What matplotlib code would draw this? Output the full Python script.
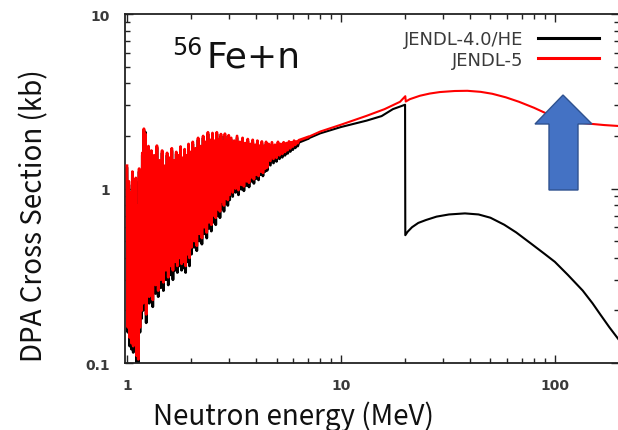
import matplotlib
matplotlib.use("Agg")
import matplotlib.pyplot as plt
from matplotlib.patches import Polygon
from matplotlib.ticker import FixedLocator, FixedFormatter, LogLocator, NullFormatter

# ---------------- data ----------------
# resonance region (shared energy grid, MeV)
res_energy = [
    1.00, 1.01, 1.02, 1.03, 1.04, 1.05, 1.06, 1.07, 1.08, 1.09, 1.10, 1.11, 1.12, 1.13, 1.14, 1.15,
    1.16, 1.17, 1.18, 1.19, 1.20, 1.21, 1.22, 1.23, 1.24, 1.25, 1.26, 1.27, 1.28, 1.29, 1.30,
    1.32, 1.34, 1.36, 1.38, 1.40, 1.42, 1.44, 1.46, 1.48, 1.50, 1.52, 1.54, 1.56, 1.58, 1.60,
    1.62, 1.64, 1.66, 1.68, 1.70, 1.72, 1.74, 1.76, 1.78, 1.80, 1.82, 1.84, 1.86, 1.88, 1.90,
    1.92, 1.94, 1.96, 1.98, 2.00,
    2.03, 2.06, 2.09, 2.12, 2.15, 2.18, 2.21, 2.24, 2.27, 2.30, 2.33, 2.36, 2.39, 2.42, 2.45,
    2.48, 2.51, 2.54, 2.57, 2.60, 2.63, 2.66, 2.69, 2.72, 2.75, 2.78, 2.81, 2.84, 2.87, 2.90,
    2.93, 2.96, 2.99, 3.02,
    3.07, 3.12, 3.17, 3.22, 3.27, 3.32, 3.37, 3.42, 3.47, 3.52, 3.57, 3.62, 3.67, 3.72, 3.77,
    3.82, 3.87, 3.92, 3.97, 4.02, 4.07, 4.12, 4.17, 4.22, 4.27, 4.32, 4.37, 4.42, 4.47, 4.52,
    4.60, 4.68, 4.76, 4.84, 4.92, 5.00, 5.08, 5.16, 5.24, 5.32, 5.40, 5.48, 5.56, 5.64, 5.72,
    5.80, 5.88, 5.96, 6.04, 6.12, 6.20, 6.28, 6.36,
]
res_jendl5 = [
    1.35, 0.16, 1.10, 0.14, 0.95, 0.13, 1.25, 0.125, 0.90, 0.14, 1.15, 0.11, 0.80, 0.105, 1.30, 0.16,
    1.05, 0.20, 1.60, 0.22, 2.20, 0.33, 2.05, 0.19, 1.50, 0.26, 1.75, 0.24, 1.40, 0.25, 1.65,
    0.23, 1.55, 0.28, 1.76, 0.26, 1.45, 0.30, 1.65, 0.29, 1.35, 0.34, 1.60, 0.31, 1.50, 0.36,
    1.70, 0.34, 1.45, 0.38, 1.62, 0.36, 1.55, 0.40, 1.74, 0.37, 1.50, 0.38, 1.68, 0.36, 1.55,
    0.42, 1.80, 0.40, 1.62, 0.46,
    1.85, 0.50, 1.70, 0.47, 1.95, 0.55, 1.75, 0.52, 2.00, 0.60, 1.85, 0.56, 2.10, 0.64, 1.90,
    0.62, 2.08, 0.70, 1.88, 0.68, 2.10, 0.76, 1.92, 0.74, 2.05, 0.84, 1.85, 0.80, 2.06, 0.88,
    1.90, 0.86, 2.02, 0.92,
    1.95, 0.95, 1.88, 1.00, 2.00, 0.98, 1.85, 1.05, 1.95, 1.03, 1.82, 1.10, 1.92, 1.08, 1.80,
    1.16, 1.90, 1.13, 1.78, 1.20, 1.88, 1.18, 1.76, 1.25, 1.86, 1.23, 1.75, 1.30, 1.85, 1.32,
    1.80, 1.44, 1.84, 1.48, 1.78, 1.50, 1.85, 1.55, 1.80, 1.58, 1.84, 1.62, 1.82, 1.66, 1.86,
    1.70, 1.84, 1.74, 1.88, 1.78, 1.86, 1.82, 1.89,
]
res_jendl4he = [
    1.30, 0.15, 1.05, 0.125, 0.92, 0.12, 1.20, 0.115, 0.88, 0.125, 1.10, 0.10, 0.78, 0.098, 1.25, 0.15,
    1.00, 0.18, 1.55, 0.20, 2.15, 0.30, 2.10, 0.17, 1.45, 0.23, 1.70, 0.22, 1.35, 0.23, 1.60,
    0.21, 1.50, 0.25, 1.72, 0.24, 1.42, 0.27, 1.60, 0.26, 1.32, 0.30, 1.55, 0.28, 1.45, 0.32,
    1.65, 0.30, 1.40, 0.34, 1.58, 0.33, 1.50, 0.36, 1.70, 0.34, 1.46, 0.35, 1.64, 0.33, 1.50,
    0.38, 1.75, 0.36, 1.58, 0.42,
    1.80, 0.46, 1.66, 0.44, 1.90, 0.50, 1.70, 0.48, 1.95, 0.55, 1.80, 0.52, 2.05, 0.59, 1.85,
    0.57, 2.02, 0.64, 1.83, 0.62, 2.05, 0.70, 1.88, 0.68, 2.00, 0.77, 1.80, 0.74, 2.00, 0.82,
    1.85, 0.80, 1.97, 0.86,
    1.90, 0.90, 1.83, 0.95, 1.95, 0.92, 1.80, 0.99, 1.90, 0.97, 1.77, 1.04, 1.87, 1.02, 1.75,
    1.10, 1.85, 1.07, 1.73, 1.14, 1.83, 1.12, 1.71, 1.20, 1.81, 1.18, 1.70, 1.25, 1.80, 1.27,
    1.75, 1.36, 1.79, 1.40, 1.73, 1.43, 1.80, 1.48, 1.75, 1.51, 1.79, 1.55, 1.77, 1.59, 1.81,
    1.63, 1.79, 1.67, 1.83, 1.71, 1.81, 1.75, 1.84,
]

# smooth high-energy region
jendl5_energy = [7.0, 8.0, 10.0, 13.2, 16.0, 18.9, 20.0, 20.1, 21.0, 23.4, 26.0, 29.0, 34.0, 39.0,
                 45.0, 51.0, 59.0, 68.0, 80.0, 92.0, 103.0, 113.0, 128.0, 146.0, 170.0, 200.0]
jendl5_dpa = [1.97, 2.12, 2.32, 2.61, 2.85, 3.14, 3.38, 3.15, 3.25, 3.40, 3.50, 3.57, 3.62, 3.63,
              3.58, 3.49, 3.33, 3.14, 2.90, 2.68, 2.55, 2.45, 2.39, 2.35, 2.31, 2.28]

jendl4he_energy = [7.0, 8.0, 10.0, 13.2, 15.5, 17.5, 19.95, 20.0, 20.5, 21.5, 23.0, 25.0, 28.0,
                   32.0, 38.0, 44.0, 50.0, 58.0, 66.0, 78.0, 90.0, 100.0, 115.0, 135.0, 150.0,
                   163.0, 180.0, 200.0]
jendl4he_dpa = [1.93, 2.07, 2.25, 2.45, 2.60, 2.85, 3.02, 0.54, 0.565, 0.60, 0.635, 0.66, 0.69,
                0.71, 0.72, 0.71, 0.68, 0.62, 0.56, 0.48, 0.42, 0.38, 0.32, 0.26, 0.22,
                0.19, 0.16, 0.135]

series_labels = ["JENDL-4.0/HE", "JENDL-5"]
x_ticks = [1, 10, 100]
x_tick_labels = ["1", "10", "100"]
y_ticks = [0.1, 1, 10]
y_tick_labels = ["0.1", "1", "10"]

# ---------------- figure ----------------
W, H = 618, 431
fig = plt.figure(figsize=(W / 100, H / 100), dpi=100)
fig.patch.set_facecolor("white")

def fx(px):
    return px / W

def fy(py):
    return 1 - py / H

ax = fig.add_axes([fx(125), fy(364), fx(619) - fx(125), fy(15) - fy(364)])
ax.set_xscale("log")
ax.set_yscale("log")

# JENDL-4.0/HE: resonance part (dense, thicker stroke) + smooth part
ax.plot(res_energy + jendl4he_energy[:1], res_jendl4he + jendl4he_dpa[:1], color="black",
        lw=2.0, solid_joinstyle="round", zorder=2)
l4, = ax.plot(jendl4he_energy, jendl4he_dpa, color="black", lw=1.5, zorder=2,
              label=series_labels[0])
# JENDL-5
ax.plot(res_energy + jendl5_energy[:1], res_jendl5 + jendl5_dpa[:1], color="#ff0000",
        lw=2.0, solid_joinstyle="round", zorder=3)
l5, = ax.plot(jendl5_energy, jendl5_dpa, color="#ff0000", lw=1.5, zorder=3,
              label=series_labels[1])

ax.set_xlim(0.979, 199.5)
ax.set_ylim(0.1, 10)

ax.xaxis.set_major_locator(FixedLocator(x_ticks))
ax.xaxis.set_major_formatter(FixedFormatter(x_tick_labels))
ax.yaxis.set_major_locator(FixedLocator(y_ticks))
ax.yaxis.set_major_formatter(FixedFormatter(y_tick_labels))
ax.xaxis.set_minor_locator(LogLocator(base=10, subs=range(2, 10)))
ax.yaxis.set_minor_locator(LogLocator(base=10, subs=range(2, 10)))
ax.xaxis.set_minor_formatter(NullFormatter())
ax.yaxis.set_minor_formatter(NullFormatter())

ax.tick_params(which="both", direction="in", top=True, right=True, color="#222222", width=1.0)
ax.tick_params(which="major", length=6)
ax.tick_params(which="minor", length=3.5)
ax.tick_params(axis="x", which="major", pad=11, labelsize=10, labelcolor="#3a3a3a")
ax.tick_params(axis="y", which="major", pad=11, labelsize=10, labelcolor="#3a3a3a")
for lab in ax.get_xticklabels() + ax.get_yticklabels():
    lab.set_fontweight("bold")
for sp in ax.spines.values():
    sp.set_color("#222222")
    sp.set_linewidth(1.3)

# legend
leg = ax.legend(handles=[l4, l5], loc="upper right", bbox_to_anchor=(fx(599), fy(31)),
                bbox_transform=fig.transFigure, frameon=False, markerfirst=False,
                fontsize=13, handlelength=3.4, handletextpad=0.8, labelspacing=0.15,
                borderpad=0, borderaxespad=0)
for t in leg.get_texts():
    t.set_color("#3a3a3a")
for h in leg.legend_handles:
    h.set_linewidth(2.2)

# title-like annotation
fig.text(fx(172), fy(55), "56", fontsize=17, family=["DejaVu Sans"], ha="left",
         va="baseline", color="#111111")
fig.text(fx(206), fy(67), "Fe+n", fontsize=26, family=["DejaVu Sans"], ha="left",
         va="baseline", color="#111111")

# axis labels
cjk = ["Noto Sans CJK JP", "DejaVu Sans"]
fig.text(fx(293), fy(425), "Neutron energy (MeV)", fontsize=20, family=cjk,
         ha="center", va="baseline", color="#111111")
fig.text(fx(34), fy(216), "DPA Cross Section (kb)", fontsize=20, family=cjk, rotation=90,
         ha="center", va="center", color="#111111")

# blue arrow (annotation shape)
arrow_px = [(549, 191), (578, 191), (578, 125), (592, 125), (563, 96), (535, 125), (549, 125)]
arrow = Polygon([(fx(x), fy(y)) for x, y in arrow_px], closed=True, transform=fig.transFigure,
                facecolor="#4472C4", edgecolor="#2F528F", lw=1.0, zorder=10)
fig.patches.append(arrow)

fig.savefig("out.png", dpi=100)
